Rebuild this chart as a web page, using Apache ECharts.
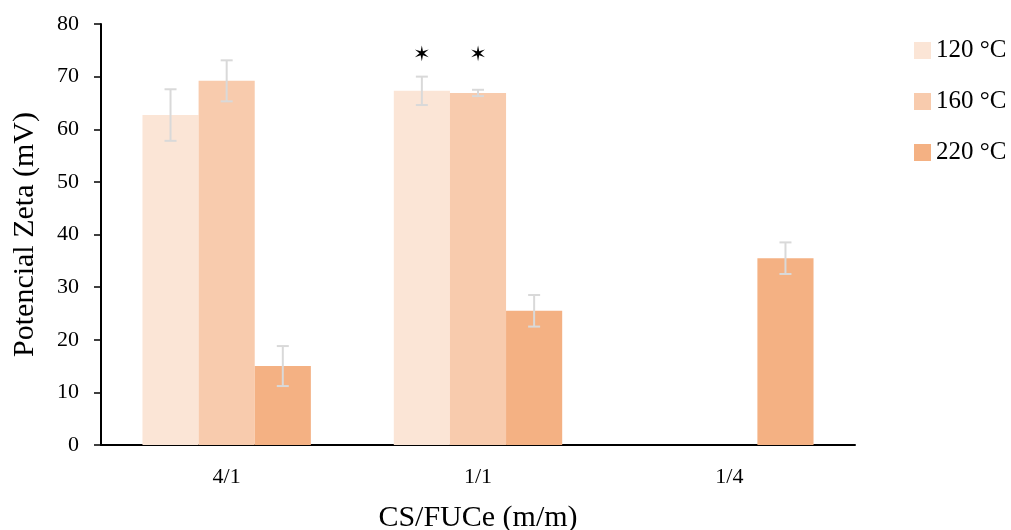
<!DOCTYPE html>
<html>
<head>
<meta charset="utf-8">
<script src="https://cdn.jsdelivr.net/npm/echarts@6/dist/echarts.min.js"></script>
<style>
  html, body { margin: 0; padding: 0; background: #fff; }
  #chart { width: 1011px; height: 530px; }
</style>
</head>
<body>
<div id="chart"></div>
<script>
// data
const categories = ['4/1', '1/1', '1/4'];
const seriesNames = ['120 °C', '160 °C', '220 °C'];
const values120 = [62.7, 67.3, null];
const values160 = [69.2, 66.9, null];
const values220 = [15.0, 25.5, 35.5];
const errors120 = [4.9, 2.7, null];
const errors160 = [3.9, 0.6, null];
const errors220 = [3.8, 3.0, 3.0];
// significance marks (height of the star)
const stars120 = [null, 74.1, null];
const stars160 = [null, 74.1, null];
const stars220 = [null, null, null];

const colors = ['#FBE5D6', '#F8CBAD', '#F4B183'];
const FONT = '"Liberation Serif", serif';
const CAT_GAP = 0.33;

function barSeries(k, vals) {
  return {
    name: seriesNames[k],
    type: 'bar',
    data: vals.map(v => (v == null ? '-' : v)),
    barGap: '0%',
    barCategoryGap: (CAT_GAP * 100) + '%',
    itemStyle: { color: colors[k] },
    emphasis: { disabled: true }
  };
}

function errorSeries(k, vals, errs, stars) {
  return {
    type: 'custom',
    silent: true,
    z: 5,
    data: categories.map((c, i) => [i, vals[i] == null ? NaN : vals[i],
      errs[i] == null ? NaN : errs[i], stars[i] == null ? NaN : stars[i]]),
    renderItem: function (params, api) {
      const v = api.value(1);
      if (v == null || isNaN(v)) return null;
      const e = api.value(2);
      const band = api.size([1, 0])[0];
      const barW = band * (1 - CAT_GAP) / 3;
      const dx = (k - 1) * barW;
      const hi = api.coord([api.value(0), v + e]);
      const lo = api.coord([api.value(0), v - e]);
      const x = hi[0] + dx;
      const cap = 6;
      const st = { stroke: '#D9D9D9', lineWidth: 2 };
      const children = [
        { type: 'line', shape: { x1: x, y1: hi[1], x2: x, y2: lo[1] }, style: st },
        { type: 'line', shape: { x1: x - cap, y1: hi[1], x2: x + cap, y2: hi[1] }, style: st },
        { type: 'line', shape: { x1: x - cap, y1: lo[1], x2: x + cap, y2: lo[1] }, style: st }
      ];
      const s = api.value(3);
      if (!isNaN(s)) {
        const p = api.coord([api.value(0), s]);
        children.push({
          type: 'text',
          style: { text: '✶', x: x, y: p[1], align: 'center', verticalAlign: 'middle',
            font: '21px "DejaVu Sans"', fill: '#000' }
        });
      }
      return { type: 'group', children: children };
    }
  };
}

const chart = echarts.init(document.getElementById('chart'));
chart.setOption({
  animation: false,
  grid: { left: 101, right: 156, top: 24, bottom: 85, containLabel: false, outerBoundsMode: 'none' },
  legend: {
    data: seriesNames,
    orient: 'vertical',
    left: 909,
    top: 33,
    icon: 'rect',
    itemWidth: 17,
    itemHeight: 17,
    itemGap: 26,
    textStyle: { fontFamily: FONT, fontSize: 25, color: '#000' }
  },
  xAxis: {
    type: 'category',
    data: categories,
    name: 'CS/FUCe (m/m)',
    nameLocation: 'middle',
    nameGap: 58,
    nameTextStyle: { fontFamily: FONT, fontSize: 30, color: '#000' },
    axisLine: { lineStyle: { color: '#000', width: 2 } },
    axisTick: { length: 8, lineStyle: { color: '#000', width: 1.5 } },
    axisLabel: { fontFamily: FONT, fontSize: 22, color: '#000', margin: 21 }
  },
  yAxis: {
    type: 'value',
    min: 0,
    max: 80,
    interval: 10,
    name: 'Potencial Zeta (mV)',
    nameLocation: 'middle',
    nameGap: 61,
    nameTextStyle: { fontFamily: FONT, fontSize: 30, color: '#000' },
    splitLine: { show: false },
    axisLine: { show: true, lineStyle: { color: '#000', width: 2 } },
    axisTick: { show: true, length: 7, lineStyle: { color: '#000', width: 1.5 } },
    axisLabel: { fontFamily: FONT, fontSize: 22, color: '#000', margin: 22 }
  },
  series: [
    barSeries(0, values120),
    barSeries(1, values160),
    barSeries(2, values220),
    errorSeries(0, values120, errors120, stars120),
    errorSeries(1, values160, errors160, stars160),
    errorSeries(2, values220, errors220, stars220)
  ]
});
</script>
</body>
</html>
